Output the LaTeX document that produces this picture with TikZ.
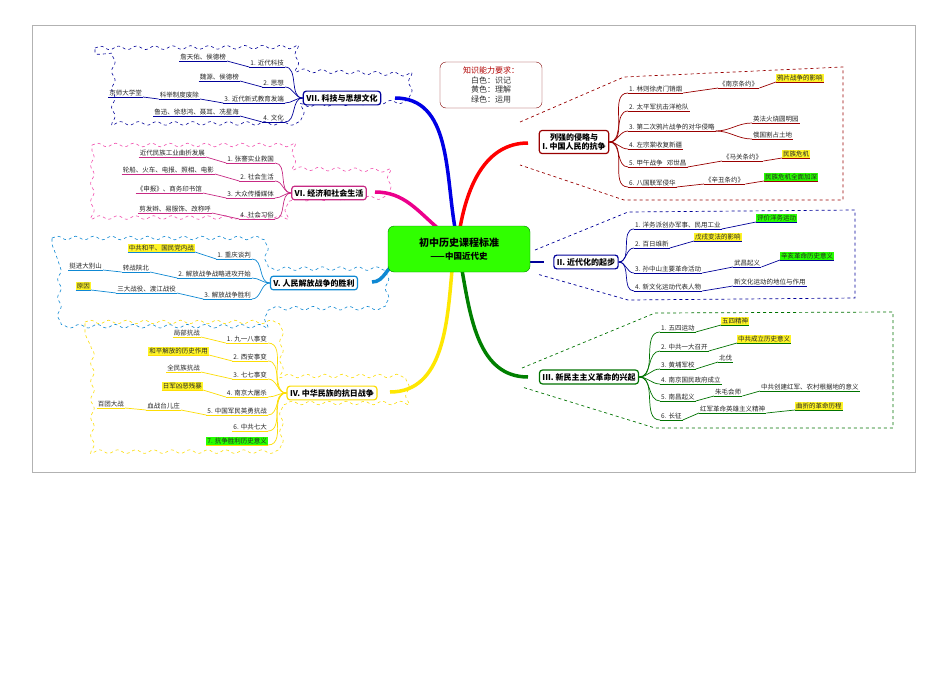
\documentclass[tikz,border=0pt]{standalone}
\usepackage{fontspec}
\setmainfont{Noto Sans CJK SC}
\usetikzlibrary{decorations.pathmorphing}
\begin{document}
\begin{tikzpicture}[x=1pt,y=-1pt,
 t/.style={font=\fontsize{6.5}{7}\selectfont, inner sep=1pt, text=black!85},
 lf/.style={t, append after command={(\tikzlastnode.south west) edge[ucol] (\tikzlastnode.south east)}},
 L/.style={lf, anchor=south east},
 R/.style={lf, anchor=south west},
 ucol/.style={draw=black, line width=.7pt},
 hy/.style={fill=yellow!85},
 hg/.style={fill=green!80!lime},
 box/.style={draw, rounded corners=3pt, line width=1.2pt, fill=white, font=\fontsize{8}{9.5}\selectfont\bfseries, align=center, inner sep=3pt},
 br/.style={line width=3.5pt},
 wave/.style={dashed, decorate, decoration={snake, amplitude=1.8pt, segment length=18pt}, line width=.6pt},
 dreg/.style={dashed, line width=.7pt},
 conn/.style={ucol}
]
\useasboundingbox (0,0) rectangle (950,672);
\fill[white] (0,0) rectangle (950,672);
\draw[black!30] (32,25) rectangle (915,472);

% wavy regions (behind)
\draw[wave,blue!60!black] (95,48) -- (290,47) -- (290,80) -- (402,84) -- (402,112) -- (290,116) -- (290,130) -- (95,130) -- cycle;
\draw[wave,magenta!70] (92,145) -- (288,145) -- (288,176) -- (384,178) -- (384,208) -- (288,210) -- (288,228) -- (92,228) -- cycle;
\draw[wave,cyan!70!blue] (52,238) -- (256,238) -- (256,268) -- (378,268) -- (378,298) -- (256,298) -- (256,312) -- (52,312) -- cycle;
\draw[wave,yellow!80!orange] (85,322) -- (272,322) -- (272,380) -- (398,380) -- (398,407) -- (272,407) -- (272,450) -- (85,450) -- cycle;

% main branches
\draw[br,red] (460,228) to[out=80,in=180] (528,143);
\draw[br,blue!90!black] (455,228) to[out=100,in=0] (395,98);
\draw[br,magenta] (440,230) to[out=140,in=0] (375,192);
\draw[br,cyan!70!blue] (398,262) to[out=200,in=0] (372,282);
\draw[br,yellow!90!orange] (452,270) to[out=-95,in=0] (390,392);
\draw[br,green!50!black] (462,270) to[out=-80,in=180] (528,377);
\draw[line width=2pt,blue!60!black] (528,262) -- (544,262);

% centre
\node[draw=green!50!black, fill=green!75!lime, rounded corners=6pt, minimum width=142pt, minimum height=46pt, align=center, font=\fontsize{10}{13}\selectfont\bfseries] (C) at (459,249) {初中历史课程标准\\{\fontsize{8.5}{10}\selectfont ——中国近代史}};

% knowledge box
\node[draw=red!50!black, rounded corners=6pt, minimum width=102pt, minimum height=46pt, align=center, font=\fontsize{8}{9.5}\selectfont, text=black!80] (K) at (491,85) {\textcolor{red!70!black}{知识能力要求：}\\白色：识记\\黄色：理解\\绿色：运用};

% ===== I =====
\begin{scope}[ucol/.style={draw=red!60!black, line width=.7pt}]
\draw[dreg,red!60!black] (520,122) -- (624,77) -- (843,67) -- (843,200) -- (624,200) -- (520,165);
\node[box,draw=red!60!black] (I) at (574,142) {列强的侵略与\\I. 中国人民的抗争};
\node[R] (i1) at (628,93) {1. 林则徐虎门销烟};
\node[R] (i2) at (628,111) {2. 太平军抗击洋枪队};
\node[R] (i3) at (628,131) {3. 第二次鸦片战争的对华侵略};
\node[R] (i4) at (628,149) {4. 左宗棠收复新疆};
\node[R] (i5) at (628,167) {5. 甲午战争 \ \ 邓世昌};
\node[R] (i6) at (628,187) {6. 八国联军侵华};
\node[R] (i1a) at (718,88) {《南京条约》};
\node[R,hy] (i1b) at (776,82) {鸦片战争的影响};
\node[R] (i3a) at (752,123) {英法火烧圆明园};
\node[R] (i3b) at (752,139) {俄国割占土地};
\node[R] (i5a) at (722,161) {《马关条约》};
\node[R,hy] (i5b) at (782,158) {民族危机};
\node[R] (i6a) at (704,184) {《辛丑条约》};
\node[R,hg] (i6b) at (764,181) {民族危机全面加深};
\foreach \n in {i1,i2,i3,i4,i5,i6} \draw[conn] (I.east) to[out=0,in=180] (\n.south west);
\draw[conn] (i1.south east) -- (i1a.south west); \draw[conn] (i1a.south east) -- (i1b.south west);
\draw[conn] (i3.south east) to[out=0,in=180] (i3a.south west); \draw[conn] (i3.south east) to[out=0,in=180] (i3b.south west);
\draw[conn] (i5.south east) -- (i5a.south west); \draw[conn] (i5a.south east) -- (i5b.south west);
\draw[conn] (i6.south east) -- (i6a.south west); \draw[conn] (i6a.south east) -- (i6b.south west);
\end{scope}

% ===== II =====
\begin{scope}[ucol/.style={draw=blue!60!black, line width=.7pt}]
\draw[dreg,blue!60!black] (535,250) -- (628,212) -- (855,210) -- (855,298) -- (628,300) -- (537,274);
\node[box,draw=blue!60!black] (II) at (586,262) {II. 近代化的起步};
\node[R] (j1) at (634,229) {1. 洋务派创办军事、民用工业};
\node[R] (j2) at (634,248) {2. 百日维新};
\node[R] (j3) at (634,273) {3. 孙中山主要革命活动};
\node[R] (j4) at (634,291) {4. 新文化运动代表人物};
\node[R,hg] (j1a) at (756,222) {评价洋务运动};
\node[R,hy] (j2a) at (694,241) {戊戌变法的影响};
\node[R] (j3a) at (733,267) {武昌起义};
\node[R,hg] (j3b) at (780,260) {辛亥革命历史意义};
\node[R] (j4a) at (733,286) {新文化运动的地位与作用};
\foreach \n in {j1,j2,j3,j4} \draw[conn] (II.east) to[out=0,in=180] (\n.south west);
\draw[conn] (j1.south east) -- (j1a.south west);
\draw[conn] (j2.south east) -- (j2a.south west);
\draw[conn] (j3.south east) -- (j3a.south west); \draw[conn] (j3a.south east) -- (j3b.south west);
\draw[conn] (j4.south east) -- (j4a.south west);
\end{scope}

% ===== III =====
\begin{scope}[ucol/.style={draw=green!45!black, line width=.7pt}]
\draw[dreg,green!45!black] (522,368) -- (655,313) -- (893,312) -- (893,428) -- (655,428) -- (522,387);
\node[box,draw=green!45!black] (III) at (589,377) {III. 新民主主义革命的兴起};
\node[R] (k1) at (660,332) {1. 五四运动};
\node[R] (k2) at (660,351) {2. 中共一大召开};
\node[R] (k3) at (660,369) {3. 黄埔军校};
\node[R] (k4) at (660,384) {4. 南京国民政府成立};
\node[R] (k5) at (660,401) {5. 南昌起义};
\node[R] (k6) at (660,420) {6. 长征};
\node[R,hy] (k1a) at (721,325) {五四精神};
\node[R,hy] (k2a) at (737,343) {中共成立历史意义};
\node[R] (k3a) at (718,362) {北伐};
\node[R] (k5a) at (714,396) {朱毛会师};
\node[R] (k5b) at (760,391) {中共创建红军、农村根据地的意义};
\node[R] (k6a) at (699,413) {红军革命英雄主义精神};
\node[R,hy] (k6b) at (795,410) {曲折的革命历程};
\foreach \n in {k1,k2,k3,k4,k5,k6} \draw[conn] (III.east) to[out=0,in=180] (\n.south west);
\draw[conn] (k1.south east) -- (k1a.south west);
\draw[conn] (k2.south east) -- (k2a.south west);
\draw[conn] (k3.south east) -- (k3a.south west);
\draw[conn] (k5.south east) -- (k5a.south west); \draw[conn] (k5a.south east) -- (k5b.south west);
\draw[conn] (k6.south east) -- (k6a.south west); \draw[conn] (k6a.south east) -- (k6b.south west);
\end{scope}

% ===== VII =====
\begin{scope}[ucol/.style={draw=blue!60!black, line width=.7pt}]
\node[box,draw=blue!60!black] (VII) at (342,98) {VII. 科技与思想文化};
\node[L] (a1) at (285,67) {1. 近代科技};
\node[L] (a2) at (285,87) {2. 思想};
\node[L] (a3) at (285,103) {3. 近代新式教育发端};
\node[L] (a4) at (285,122) {4. 文化};
\node[L] (a1a) at (227,61) {詹天佑、侯德榜};
\node[L] (a2a) at (240,81) {魏源、侯德榜};
\node[L] (a3a) at (200,99) {科举制度废除};
\node[L] (a3b) at (143,97) {京师大学堂};
\node[L] (a4a) at (240,116) {鲁迅、徐悲鸿、聂耳、冼星海};
\foreach \n in {a1,a2,a3,a4} \draw[conn] (VII.west) to[out=180,in=0] (\n.south east);
\draw[conn] (a1.south west) -- (a1a.south east);
\draw[conn] (a2.south west) -- (a2a.south east);
\draw[conn] (a3.south west) -- (a3a.south east); \draw[conn] (a3a.south west) -- (a3b.south east);
\draw[conn] (a4.south west) -- (a4a.south east);
\end{scope}

% ===== VI =====
\begin{scope}[ucol/.style={draw=magenta!80!black, line width=.7pt}]
\node[box,draw=magenta!80!black] (VI) at (329,193) {VI. 经济和社会生活};
\node[L] (b1) at (275,163) {1. 张謇实业救国};
\node[L] (b2) at (275,181) {2. 社会生活};
\node[L] (b3) at (275,198) {3. 大众传播媒体};
\node[L] (b4) at (275,219) {4. 社会习俗};
\node[L] (b1a) at (206,157) {近代民族工业曲折发展};
\node[L] (b2a) at (215,174) {轮船、火车、电报、照相、电影};
\node[L] (b3a) at (203,193) {《申报》、商务印书馆};
\node[L] (b4a) at (212,213) {剪发辫、易服饰、改称呼};
\foreach \n in {b1,b2,b3,b4} \draw[conn] (VI.west) to[out=180,in=0] (\n.south east);
\foreach \n in {b1,b2,b3,b4} \draw[conn] (\n.south west) -- (\n a.south east);
\end{scope}

% ===== V =====
\begin{scope}[ucol/.style={draw=cyan!70!blue, line width=.7pt}]
\node[box,draw=cyan!70!blue] (V) at (314,283) {V. 人民解放战争的胜利};
\node[L] (c1) at (252,259) {1. 重庆谈判};
\node[L] (c2) at (252,278) {2. 解放战争战略进攻开始};
\node[L] (c3) at (252,299) {3. 解放战争胜利};
\node[L,hy] (c1a) at (195,252) {中共和平、国民党内战};
\node[L] (c2a) at (150,272) {转战陕北};
\node[L] (c2b) at (103,270) {挺进大别山};
\node[L] (c3a) at (177,293) {三大战役、渡江战役};
\node[L,hy] (c3b) at (91,290) {原因};
\foreach \n in {c1,c2,c3} \draw[conn] (V.west) to[out=180,in=0] (\n.south east);
\draw[conn] (c1.south west) -- (c1a.south east);
\draw[conn] (c2.south west) -- (c2a.south east); \draw[conn] (c2a.south west) -- (c2b.south east);
\draw[conn] (c3.south west) -- (c3a.south east); \draw[conn] (c3a.south west) -- (c3b.south east);
\end{scope}

% ===== IV =====
\begin{scope}[ucol/.style={draw=yellow!80!orange, line width=.7pt}]
\node[box,draw=yellow!80!orange] (IV) at (332,393) {IV. 中华民族的抗日战争};
\node[L] (d1) at (268,343) {1. 九一八事变};
\node[L] (d2) at (268,361) {2. 西安事变};
\node[L] (d3) at (268,379) {3. 七七事变};
\node[L] (d4) at (268,397) {4. 南京大屠杀};
\node[L] (d5) at (268,415) {5. 中国军民英勇抗战};
\node[L] (d6) at (268,431) {6. 中共七大};
\node[L,hg] (d7) at (268,445) {7. 抗争胜利历史意义};
\node[L] (d1a) at (201,337) {局部抗战};
\node[L,hy] (d2a) at (209,355) {和平解放的历史作用};
\node[L] (d3a) at (201,372) {全民族抗战};
\node[L,hy] (d4a) at (203,390) {日军凶恶残暴};
\node[L] (d5a) at (181,410) {血战台儿庄};
\node[L] (d5b) at (125,408) {百团大战};
\foreach \n in {d1,d2,d3,d4,d5,d6,d7} \draw[conn] (IV.west) to[out=180,in=0] (\n.south east);
\foreach \n in {d1,d2,d3,d4,d5} \draw[conn] (\n.south west) -- (\n a.south east);
\draw[conn] (d5a.south west) -- (d5b.south east);
\end{scope}
\end{tikzpicture}
\end{document}
